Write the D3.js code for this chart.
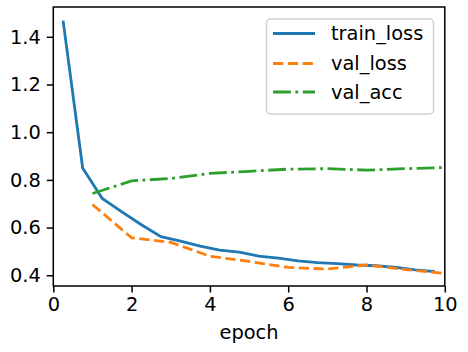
<!DOCTYPE html>
<html><head><meta charset="utf-8">
<script src="https://cdn.jsdelivr.net/npm/d3@7"></script>
<style>body{margin:0;background:#fff}svg{display:block}text{font-family:"DejaVu Sans",sans-serif}</style>
</head><body><svg id="c" width="468" height="352"></svg>
<script>
const trainX = [0.25,0.75,1.25,1.75,2.25,2.75,3.25,3.75,4.25,4.75,5.25,5.75,6.25,6.75,7.25,7.75,8.25,8.75,9.25,9.75];
const trainLoss = [1.468,0.850,0.722,0.666,0.612,0.562,0.543,0.522,0.505,0.497,0.480,0.472,0.460,0.453,0.449,0.443,0.440,0.433,0.423,0.415];
const valX = [1,2,3,4,5,6,7,8,9,10];
const valLoss = [0.697,0.557,0.538,0.480,0.458,0.433,0.426,0.443,0.424,0.408];
const valAcc = [0.743,0.796,0.806,0.827,0.836,0.845,0.847,0.841,0.847,0.852];
const xTicks = [0,2,4,6,8,10];
const yTicks = [0.4,0.6,0.8,1.0,1.2,1.4];
const seriesNames = ["train_loss","val_loss","val_acc"];
const colors = ["#1f77b4","#ff7f0e","#2ca02c"];
const dashes = [null,"10.3,4.5","17.9,4.5,2.8,4.5"];

const L=53.3,R=444.8,T=7,B=286;
const svg=d3.select("#c");
const x=d3.scaleLinear().domain([0,10]).range([L,R]);
const y=d3.scaleLinear().domain([0.355,1.525]).range([B,T]);
const fs=19.4;

const line=d3.line().x(d=>x(d[0])).y(d=>y(d[1]));
const data=[d3.zip(trainX,trainLoss),d3.zip(valX,valLoss),d3.zip(valX,valAcc)];
const g=svg.append("g");
data.forEach((d,i)=>{
  const p=g.append("path").attr("d",line(d)).attr("fill","none").attr("stroke",colors[i]).attr("stroke-width",2.8);
  if(dashes[i]) p.attr("stroke-dasharray",dashes[i]);
});

const xa=svg.append("g").attr("transform",`translate(0,${B})`).call(d3.axisBottom(x).tickValues(xTicks).tickFormat(d3.format("d")).tickSize(6.5).tickPadding(5));
const ya=svg.append("g").attr("transform",`translate(${L},0)`).call(d3.axisLeft(y).tickValues(yTicks).tickFormat(d3.format(".1f")).tickSize(6.5).tickPadding(6));
[xa,ya].forEach(a=>{a.select(".domain").remove();a.selectAll("line").attr("stroke","#000").attr("stroke-width",1.5);a.selectAll("text").attr("font-size",fs).attr("fill","#000").attr("font-family","DejaVu Sans");});
svg.append("rect").attr("x",L).attr("y",T).attr("width",R-L).attr("height",B-T).attr("fill","none").attr("stroke","#000").attr("stroke-width",1.5);

svg.append("text").attr("x",(L+R)/2).attr("y",339).attr("text-anchor","middle").attr("font-size",fs).text("epoch");

const lg=svg.append("g");
lg.append("rect").attr("x",266.5).attr("y",19).attr("width",167).attr("height",95).attr("rx",4).attr("fill","#fff").attr("fill-opacity",0.8).attr("stroke","#d0d0d0").attr("stroke-width",1.5);
const rows=[33.5,63.5,92];
seriesNames.forEach((n,i)=>{
  const l=lg.append("line").attr("x1",273).attr("x2",315).attr("y1",rows[i]).attr("y2",rows[i]).attr("stroke",colors[i]).attr("stroke-width",2.8);
  if(dashes[i]) l.attr("stroke-dasharray",dashes[i]);
  lg.append("text").attr("x",331).attr("y",rows[i]).attr("dy","0.35em").attr("font-size",fs).text(n);
});
</script></body></html>
